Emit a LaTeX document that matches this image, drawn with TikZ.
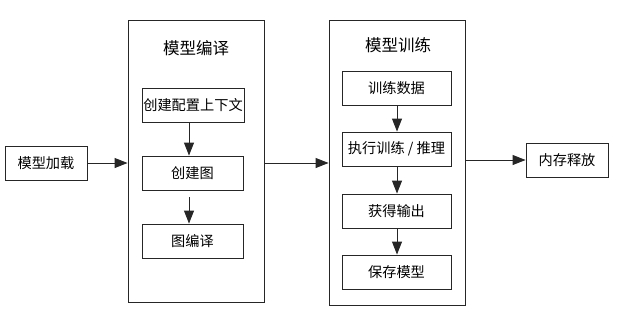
\documentclass[tikz,border=0pt]{standalone}
\usepackage{fontspec}
\setmainfont{Noto Sans CJK SC}
\usetikzlibrary{arrows.meta}
\begin{document}
\begin{tikzpicture}[x=1pt,y=-1pt,
  box/.style={draw=black!85,line width=0.9pt,inner sep=0pt,font=\fontsize{14.2}{16}\selectfont},
  outer/.style={draw=black!85,line width=0.9pt,inner sep=0pt},
  ttl/.style={inner sep=0pt,font=\fontsize{16.5}{18}\selectfont},
  arr/.style={draw=black!85,line width=0.9pt,-{Triangle[length=13pt,width=10pt]}}]
\useasboundingbox (0,0) rectangle (620,316);
% boxes
\node[box,minimum width=82,minimum height=34] (load) at (46,163) {模型加载};
\node[outer,minimum width=136,minimum height=282] (comp) at (196,161) {};
\node[ttl] (ct) at (196,48) {模型编译};
\node[box,minimum width=102,minimum height=34] (ctx) at (193,105) {创建配置上下文};
\node[box,minimum width=101,minimum height=34] (graph) at (192.5,173) {创建图};
\node[box,minimum width=101,minimum height=34] (gcomp) at (192.5,241) {图编译};
\node[outer,minimum width=136,minimum height=285] (train) at (397,162.5) {};
\node[ttl] (tt) at (398,45) {模型训练};
\node[box,minimum width=109,minimum height=34] (data) at (396.5,88) {训练数据};
\node[box,minimum width=109,minimum height=34] (exec) at (396.5,149) {执行训练 / 推理};
\node[box,minimum width=109,minimum height=34] (out) at (396.5,211) {获得输出};
\node[box,minimum width=109,minimum height=34] (save) at (396.5,272) {保存模型};
\node[box,minimum width=82,minimum height=34] (free) at (567,160) {内存释放};
% connectors
\draw[arr] (load.east) -- (load.east -| comp.west);
\draw[arr] (ctx.south -| 189,0) -- (graph.north -| 189,0);
\coordinate (g3) at (189,197);
\draw[arr] (g3) -- (gcomp.north -| g3);
\draw[arr] (comp.east |- 0,163) -- (train.west |- 0,163);
\draw[arr] (data.south -| 397,0) -- (exec.north -| 397,0);
\draw[arr] (exec.south -| 397,0) -- (out.north -| 397,0);
\draw[arr] (out.south -| 397,0) -- (save.north -| 397,0);
\draw[arr] (train.east |- free.west) -- (free.west);
\end{tikzpicture}
\end{document}
